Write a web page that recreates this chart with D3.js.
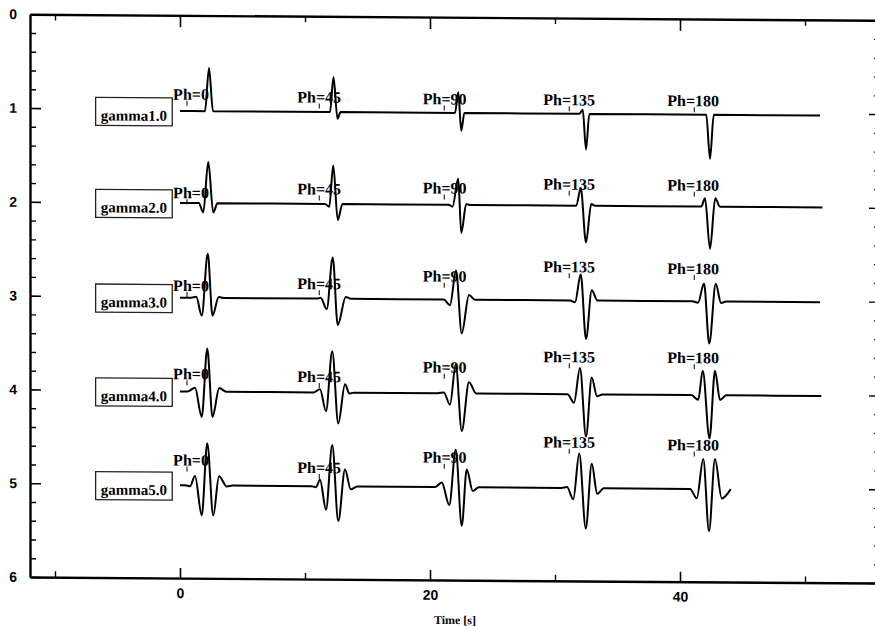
<!DOCTYPE html>
<html>
<head>
<meta charset="utf-8">
<script src="https://cdn.jsdelivr.net/npm/d3@7"></script>
<style>
  body { margin: 0; background: #fff; }
  svg { display: block; }
  .axis path, .axis line { stroke: #000; }
  .axis text { font-family: "Liberation Sans", Arial, sans-serif; font-weight: bold; font-size: 14px; fill: #000; }
</style>
</head>
<body>
<div id="chart"></div>
<script>
// ---------- data ----------
const gammaLabels = ["gamma1.0", "gamma2.0", "gamma3.0", "gamma4.0", "gamma5.0"];
const traceLevels = [1.02, 2.0, 3.01, 4.01, 5.01];

const phaseLabels = ["Ph=0", "Ph=45", "Ph=90", "Ph=135", "Ph=180"];
const phaseLabelTimes = [-0.55, 9.38, 19.42, 29.06, 38.98];
const phaseTickTimes = [0.56, 11.14, 21.14, 31.14, 41.14];
// how far above the trace each Ph label sits (y units), one row per trace
const phaseLabelLift = [
  [0.12, 0.10, 0.09, 0.09, 0.09],
  [0.05, 0.10, 0.12, 0.17, 0.17],
  [0.07, 0.10, 0.19, 0.30, 0.29],
  [0.13, 0.11, 0.22, 0.34, 0.34],
  [0.21, 0.14, 0.26, 0.43, 0.41]
];

// [time s, amplitude] key points of each trace (peaks, troughs, rest points)
const gamma1 = [[0,0],[2.0,0],[2.32,0.46],[2.64,0],
  [12.0,0],[12.28,0.37],[12.6,-0.07],[12.85,0],
  [22.0,0],[22.26,0.22],[22.5,-0.19],[22.75,0],
  [31.95,0],[32.22,0.045],[32.48,-0.38],[32.75,0],
  [42.1,0],[42.4,-0.47],[42.7,0],
  [51.2,0]];
const gamma2 = [[0,0],[1.5,0],[1.86,-0.10],[2.26,0.44],[2.66,-0.10],[3.0,0],
  [11.6,0],[11.94,-0.03],[12.26,0.41],[12.62,-0.17],[13.0,0],
  [21.5,0],[21.8,-0.02],[22.26,0.28],[22.5,-0.30],[22.9,0.01],[23.2,0],
  [31.7,0],[32.06,0.19],[32.48,-0.39],[32.9,0.02],[33.2,0],
  [41.7,0],[42.0,0.09],[42.4,-0.45],[42.82,0.09],[43.2,0],
  [51.4,0]];
const gamma3 = [[0,0],[0.9,0],[1.3,0.01],[1.74,-0.19],[2.22,0.47],[2.6,-0.19],[3.1,0.01],[3.5,0],
  [11.0,0],[11.25,0.01],[11.74,-0.11],[12.22,0.44],[12.62,-0.28],[13.26,0.02],[13.7,0],
  [21.1,0],[21.6,-0.06],[22.08,0.31],[22.54,-0.36],[23.12,0.05],[23.6,0],
  [31.2,0],[31.6,-0.02],[32.06,0.28],[32.48,-0.41],[32.94,0.11],[33.4,0],
  [41.0,0],[41.44,-0.015],[41.92,0.19],[42.34,-0.45],[42.86,0.19],[43.28,-0.015],[43.7,0],
  [51.2,0]];
const gamma4 = [[0,0],[0.6,0],[1.2,0.04],[1.74,-0.27],[2.18,0.46],[2.6,-0.27],[3.14,0.04],[3.7,0],
  [10.7,0],[11.2,0.035],[11.68,-0.20],[12.18,0.44],[12.66,-0.33],[13.2,0.09],[13.55,-0.01],[13.9,0],
  [20.6,0],[21.1,0.01],[21.6,-0.12],[22.06,0.31],[22.54,-0.40],[23.12,0.12],[23.7,0],
  [31.0,0],[31.52,-0.09],[32.0,0.28],[32.48,-0.45],[32.94,0.18],[33.36,-0.02],[33.8,0],
  [40.9,0],[41.46,-0.05],[41.82,0.26],[42.36,-0.46],[42.8,0.26],[43.2,-0.05],[43.7,0],
  [51.3,0]];
const gamma5 = [[0,0],[0.4,0],[0.8,-0.01],[1.2,0.10],[1.74,-0.32],[2.18,0.45],[2.66,-0.32],[3.12,0.10],[3.74,-0.01],[4.2,0],
  [10.5,0],[10.88,-0.01],[11.2,0.07],[11.68,-0.25],[12.18,0.44],[12.66,-0.37],[13.2,0.18],[13.66,-0.03],[14.2,0],
  [20.4,0],[20.94,0.05],[21.54,-0.19],[22.06,0.40],[22.54,-0.41],[22.94,0.19],[23.42,-0.04],[23.9,0],
  [30.5,0],[30.96,0.01],[31.46,-0.12],[31.94,0.37],[32.46,-0.43],[32.94,0.26],[33.38,-0.06],[33.9,0],
  [40.8,0],[41.34,-0.10],[41.86,0.32],[42.32,-0.45],[42.8,0.32],[43.34,-0.10],[44.06,0]];
const traces = [gamma1, gamma2, gamma3, gamma4, gamma5];

const xMajorTicks = [0, 20, 40];
const xMinorTicks = [-10, 10, 30, 50];
const yMajorTicks = [0, 1, 2, 3, 4, 5, 6];
const xTitle = "Time [s]";

// ---------- drawing ----------
const width = 875, height = 627;

const svg = d3.select("#chart").append("svg")
  .attr("width", width)
  .attr("height", height);

// the scanned page is slightly sheared, so the whole plot leans a bit
const g = svg.append("g").attr("transform", "skewY(0.41)");

const x = d3.scaleLinear().domain([-12, 55.92]).range([30, 879]);
const y = d3.scaleLinear().domain([0, 6]).range([14, 576.8]);

const yMinorTicks = d3.range(0, 30).map(i => i * 0.2).filter(v => Math.abs(v - Math.round(v)) > 1e-6);

// left axis
g.append("g").attr("class", "axis")
  .attr("transform", `translate(${x(-12)},0)`)
  .call(d3.axisLeft(y).tickValues(yMajorTicks).tickSizeInner(-11).tickSizeOuter(0).tickPadding(13).tickFormat(d3.format("d")))
  .call(a => a.select(".domain").attr("stroke-width", 2.4))
  .call(a => a.selectAll(".tick line").attr("stroke-width", 1.6));
g.append("g").attr("class", "axis")
  .attr("transform", `translate(${x(-12)},0)`)
  .call(d3.axisLeft(y).tickValues(yMinorTicks).tickSizeInner(-6).tickSizeOuter(0).tickFormat(""))
  .call(a => a.select(".domain").remove())
  .call(a => a.selectAll(".tick line").attr("stroke-width", 1.4));

// right axis (ticks only, its line falls just outside the page)
g.append("g").attr("class", "axis")
  .attr("transform", `translate(${x(55.92)},0)`)
  .call(d3.axisRight(y).tickValues(yMajorTicks).tickSizeInner(-10).tickSizeOuter(0).tickFormat(""))
  .call(a => a.selectAll(".tick line").attr("stroke-width", 1.4));
g.append("g").attr("class", "axis")
  .attr("transform", `translate(${x(55.92)},0)`)
  .call(d3.axisRight(y).tickValues(yMinorTicks).tickSizeInner(-5).tickSizeOuter(0).tickFormat(""))
  .call(a => a.select(".domain").remove())
  .call(a => a.selectAll(".tick line").attr("stroke-width", 1.2));

// bottom axis
g.append("g").attr("class", "axis")
  .attr("transform", `translate(0,${y(6)})`)
  .call(d3.axisBottom(x).tickValues(xMajorTicks).tickSizeInner(-10).tickSizeOuter(0).tickPadding(10).tickFormat(d3.format("d")))
  .call(a => a.select(".domain").attr("stroke-width", 2.4))
  .call(a => a.selectAll(".tick line").attr("stroke-width", 1.6));
g.append("g").attr("class", "axis")
  .attr("transform", `translate(0,${y(6)})`)
  .call(d3.axisBottom(x).tickValues(xMinorTicks).tickSizeInner(-6).tickSizeOuter(0).tickFormat(""))
  .call(a => a.select(".domain").remove())
  .call(a => a.selectAll(".tick line").attr("stroke-width", 1.4));

// top axis
g.append("g").attr("class", "axis")
  .attr("transform", `translate(0,${y(0)})`)
  .call(d3.axisTop(x).tickValues(xMajorTicks).tickSizeInner(-12).tickSizeOuter(0).tickFormat(""))
  .call(a => a.select(".domain").attr("stroke-width", 2.4))
  .call(a => a.selectAll(".tick line").attr("stroke-width", 1.6));
g.append("g").attr("class", "axis")
  .attr("transform", `translate(0,${y(0)})`)
  .call(d3.axisTop(x).tickValues(xMinorTicks).tickSizeInner(-6).tickSizeOuter(0).tickFormat(""))
  .call(a => a.select(".domain").remove())
  .call(a => a.selectAll(".tick line").attr("stroke-width", 1.4));

// x title
g.append("text")
  .attr("x", x(22))
  .attr("y", y(6) + 44)
  .attr("text-anchor", "middle")
  .style("font-family", "'Liberation Serif', 'Times New Roman', serif")
  .style("font-weight", "bold")
  .style("font-size", "12px")
  .text(xTitle);

// gamma label boxes
const boxes = g.selectAll(".gbox")
  .data(gammaLabels)
  .enter().append("g")
  .attr("class", "gbox");
boxes.append("rect")
  .attr("x", x(-6.75))
  .attr("y", (d, i) => y(traceLevels[i]) - 13)
  .attr("width", x(-0.62) - x(-6.75))
  .attr("height", 28)
  .attr("fill", "none")
  .attr("stroke", "#222")
  .attr("stroke-width", 1.3);
boxes.append("text")
  .attr("x", (x(-6.75) + x(-0.62)) / 2)
  .attr("y", (d, i) => y(traceLevels[i]) + 10)
  .attr("text-anchor", "middle")
  .style("font-family", "'Liberation Serif', 'Times New Roman', serif")
  .style("font-weight", "bold")
  .style("font-size", "15px")
  .text(d => d);

// phase labels with their little pointer ticks
traceLevels.forEach((level, i) => {
  phaseLabels.forEach((lab, j) => {
    const by = y(level - phaseLabelLift[i][j]);
    g.append("text")
      .attr("x", x(phaseLabelTimes[j]))
      .attr("y", by)
      .style("font-family", "'Liberation Serif', 'Times New Roman', serif")
      .style("font-weight", "bold")
      .style("font-size", "16px")
      .text(lab);
    g.append("line")
      .attr("x1", x(phaseTickTimes[j])).attr("x2", x(phaseTickTimes[j]))
      .attr("y1", by + 1).attr("y2", by + 6)
      .attr("stroke", "#000").attr("stroke-width", 1);
  });
});

// the traces
const line = d3.line().curve(d3.curveMonotoneX);
traces.forEach((pts, i) => {
  const level = traceLevels[i];
  g.append("path")
    .attr("d", line.x(d => x(d[0])).y(d => y(level - d[1]))(pts))
    .attr("fill", "none")
    .attr("stroke", "#000")
    .attr("stroke-width", 2)
    .attr("stroke-linejoin", "round");
});
</script>
</body>
</html>
